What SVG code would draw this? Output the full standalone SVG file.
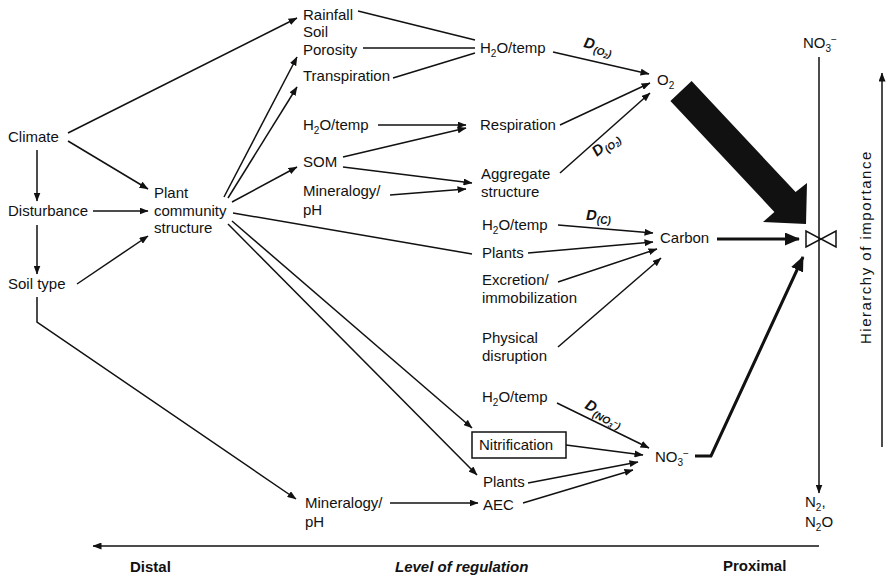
<svg xmlns="http://www.w3.org/2000/svg" width="887" height="575" viewBox="0 0 887 575">
<defs>
<style>
text{font-family:"Liberation Sans",Arial,sans-serif;font-size:15px;fill:#111}
.sub{font-size:10px}
.dl{font-style:italic;font-weight:bold;font-size:15px}
.ds{font-size:10px}
.b{font-weight:bold}
.ln{stroke:#111;stroke-width:1.5;fill:none}
.arr{marker-end:url(#ah)}
.thick{stroke:#111;stroke-width:3;fill:none;marker-end:url(#ahb)}
</style>
<marker id="ah" viewBox="0 0 9 7" refX="8.5" refY="3.5" markerWidth="9" markerHeight="7" orient="auto" markerUnits="userSpaceOnUse"><path d="M0,0 L9,3.5 L0,7 z" fill="#111"/></marker>
<marker id="ahb" viewBox="0 0 15 13" refX="14" refY="6.5" markerWidth="15" markerHeight="13" orient="auto" markerUnits="userSpaceOnUse"><path d="M0,0 L15,6.5 L0,13 z" fill="#111"/></marker>
</defs>
<rect width="887" height="575" fill="#fff"/>

<g id="connectors">
<line class="ln arr" x1="37" y1="150" x2="37" y2="201"/>
<line class="ln arr" x1="37" y1="225" x2="37" y2="274"/>
<line class="ln arr" x1="68" y1="133" x2="297" y2="18"/>
<line class="ln arr" x1="68" y1="141" x2="148" y2="189"/>
<line class="ln arr" x1="93" y1="211" x2="148" y2="211"/>
<line class="ln arr" x1="77" y1="284" x2="148" y2="236"/>
<polyline class="ln arr" points="37,297 37,322 296,499"/>
<line class="ln arr" x1="224" y1="197" x2="297" y2="57"/>
<line class="ln arr" x1="228" y1="198" x2="297" y2="87"/>
<line class="ln arr" x1="232" y1="202" x2="297" y2="167"/>
<line class="ln" x1="233" y1="213" x2="472" y2="254"/>
<line class="ln arr" x1="232" y1="221" x2="472" y2="428"/>
<line class="ln arr" x1="228" y1="224" x2="477" y2="475"/>
<line class="ln" x1="358" y1="11" x2="475" y2="40"/>
<line class="ln" x1="363" y1="48" x2="475" y2="48" stroke-width="2.2"/>
<line class="ln" x1="393" y1="78" x2="475" y2="53"/>
<line class="ln arr" x1="378" y1="125" x2="466" y2="125"/>
<line class="ln arr" x1="343" y1="157" x2="466" y2="128"/>
<line class="ln arr" x1="343" y1="167" x2="472" y2="183"/>
<line class="ln arr" x1="390" y1="195" x2="466" y2="189"/>
<line class="ln arr" x1="553" y1="52" x2="649" y2="74"/>
<line class="ln arr" x1="560" y1="125" x2="650" y2="83"/>
<line class="ln arr" x1="560" y1="173" x2="650" y2="93"/>
<line class="ln arr" x1="558" y1="225" x2="653" y2="233"/>
<line class="ln arr" x1="528" y1="253" x2="653" y2="242"/>
<line class="ln arr" x1="558" y1="282" x2="657" y2="249"/>
<line class="ln arr" x1="558" y1="347" x2="661" y2="258"/>
<line class="thick" x1="717" y1="239" x2="799" y2="239"/>
<line class="ln arr" x1="557" y1="403" x2="649" y2="448"/>
<line class="ln arr" x1="566" y1="445" x2="643" y2="455"/>
<line class="ln arr" x1="528" y1="483" x2="638" y2="462"/>
<line class="ln arr" x1="523" y1="503" x2="633" y2="470"/>
<line class="ln arr" x1="390" y1="503" x2="478" y2="503"/>
<polyline class="thick" points="695,456 711,456 803,257"/>
<polygon points="670.4,100.9 691.6,81.1 795.6,192.1 807,183 806,224 763,222 774.4,211.9" fill="#111"/>
<line class="ln arr" x1="819" y1="57" x2="819" y2="493"/>
<line class="ln arr" x1="882" y1="447" x2="882" y2="73"/>
<line class="ln arr" x1="819" y1="546" x2="93" y2="546" stroke-width="2"/>
</g>

<g id="labels">
<text class="dl" transform="translate(583,47) rotate(13)">D<tspan class="ds" dy="4">(O<tspan dy="2" font-size="7">2</tspan><tspan dy="-2">)</tspan></tspan></text>
<text class="dl" transform="translate(597,157) rotate(-40)">D<tspan class="ds" dy="4">(O<tspan dy="2" font-size="7">2</tspan><tspan dy="-2">)</tspan></tspan></text>
<text class="dl" x="586" y="220">D<tspan class="ds" dy="4">(C)</tspan></text>
<text class="dl" transform="translate(584,408) rotate(27)">D<tspan class="ds" dy="4">(NO<tspan dy="2" font-size="7">3</tspan><tspan dy="-5" font-size="7">−</tspan><tspan dy="3">)</tspan></tspan></text>
</g>

<g id="climate"><text x="8" y="142">Climate</text></g>
<g id="disturbance"><text x="8" y="216">Disturbance</text></g>
<g id="soil-type"><text x="8" y="289">Soil type</text></g>
<g id="plant-community"><text x="154" y="198">Plant</text><text x="154" y="216">community</text><text x="154" y="233">structure</text></g>
<g id="rainfall"><text x="303" y="20">Rainfall</text></g>
<g id="soil-porosity"><text x="303" y="37">Soil</text><text x="303" y="55">Porosity</text></g>
<g id="transpiration"><text x="303" y="81">Transpiration</text></g>
<g id="h2o-temp-1"><text x="303" y="130">H<tspan class="sub" dy="4">2</tspan><tspan dy="-4">O/temp</tspan></text></g>
<g id="som"><text x="303" y="167">SOM</text></g>
<g id="mineralogy-1"><text x="303" y="196">Mineralogy/</text><text x="303" y="215">pH</text></g>
<g id="h2o-temp-2"><text x="480" y="53">H<tspan class="sub" dy="4">2</tspan><tspan dy="-4">O/temp</tspan></text></g>
<g id="respiration"><text x="480" y="130">Respiration</text></g>
<g id="aggregate"><text x="481" y="179">Aggregate</text><text x="481" y="197">structure</text></g>
<g id="o2"><text x="657" y="85">O<tspan class="sub" dy="4">2</tspan></text></g>
<g id="h2o-temp-3"><text x="482" y="230">H<tspan class="sub" dy="4">2</tspan><tspan dy="-4">O/temp</tspan></text></g>
<g id="plants-1"><text x="482" y="258">Plants</text></g>
<g id="excretion"><text x="482" y="285">Excretion/</text><text x="482" y="303">immobilization</text></g>
<g id="physical"><text x="482" y="343">Physical</text><text x="482" y="361">disruption</text></g>
<g id="carbon"><text x="660" y="243">Carbon</text></g>
<g id="h2o-temp-4"><text x="482" y="402">H<tspan class="sub" dy="4">2</tspan><tspan dy="-4">O/temp</tspan></text></g>
<g id="nitrification"><rect x="472" y="432" width="94" height="26" fill="none" stroke="#111" stroke-width="1.5"/><text x="479" y="450">Nitrification</text></g>
<g id="plants-2"><text x="483" y="487">Plants</text></g>
<g id="aec"><text x="483" y="510">AEC</text></g>
<g id="mineralogy-2"><text x="305" y="508">Mineralogy/</text><text x="305" y="527">pH</text></g>
<g id="no3-mid"><text x="655" y="462">NO<tspan class="sub" dy="4">3</tspan><tspan class="sub" dy="-9">−</tspan></text></g>
<g id="bowtie"><path d="M806,231 L806,247 L821,239 Z M836,231 L836,247 L821,239 Z" fill="none" stroke="#111" stroke-width="1.5"/></g>
<g id="no3-top"><text x="803" y="48">NO<tspan class="sub" dy="4">3</tspan><tspan class="sub" dy="-9">−</tspan></text></g>
<g id="n2"><text x="805" y="507">N<tspan class="sub" dy="4">2</tspan><tspan dy="-4">,</tspan></text><text x="805" y="527">N<tspan class="sub" dy="4">2</tspan><tspan dy="-4">O</tspan></text></g>
<g id="hierarchy"><text transform="translate(871,344) rotate(-90)" font-size="16" letter-spacing="1.5">Hierarchy of importance</text></g>
<g id="axis-labels"><text class="b" x="130" y="572">Distal</text><text class="b" x="395" y="572" font-style="italic">Level of regulation</text><text class="b" x="723" y="571">Proximal</text></g>
</svg>
